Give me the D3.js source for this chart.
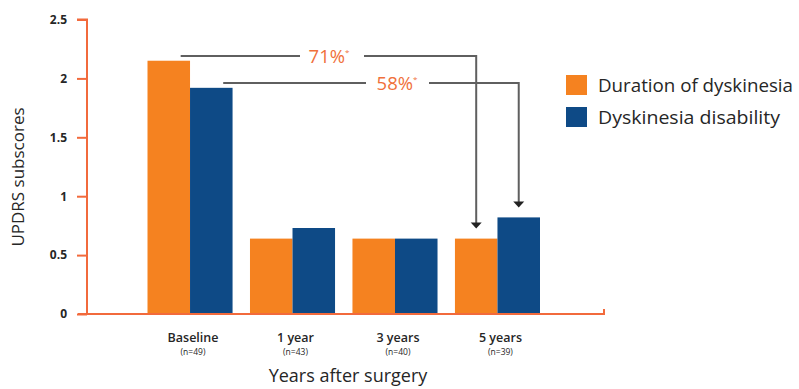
<!DOCTYPE html>
<html>
<head>
<meta charset="utf-8">
<script src="https://cdn.jsdelivr.net/npm/d3@7"></script>
<style>
  html, body { margin: 0; padding: 0; background: #fff; }
  svg { display: block; font-family: "Open Sans", "Noto Sans", sans-serif; }
</style>
</head>
<body>
<svg id="chart" width="799" height="389"></svg>
<script>
// Dyskinesia subscores over time after surgery
const categories = ["Baseline", "1 year", "3 years", "5 years"];
const sampleSizes = ["(n=49)", "(n=43)", "(n=40)", "(n=39)"];
const seriesNames = ["Duration of dyskinesia", "Dyskinesia disability"];
const durationValues = [2.15, 0.64, 0.64, 0.64];
const disabilityValues = [1.92, 0.73, 0.64, 0.82];
const yTicks = [0, 0.5, 1, 1.5, 2, 2.5];
const reductionLabels = ["71%", "58%"];

const colors = ["#f58220", "#0e4a86"];
const axisColor = "#f26a3c";
const textColor = "#262626";
const annotColor = "#5f5f5f";

const svg = d3.select("#chart");

const y = d3.scaleLinear().domain([0, 2.5]).range([314, 19.5]);
const x = d3.scaleBand().domain(categories).range([147.5, 540]).paddingInner(0.17).paddingOuter(0);
const xs = d3.scaleBand().domain(seriesNames).range([0, x.bandwidth()]);

const series = [durationValues, disabilityValues];

// bars
series.forEach((vals, si) => {
  svg.append("g").selectAll("rect")
    .data(categories.map((c, i) => ({ c, v: vals[i] })))
    .join("rect")
    .attr("x", d => x(d.c) + xs(seriesNames[si]))
    .attr("y", d => y(d.v))
    .attr("width", xs.bandwidth())
    .attr("height", d => y(0) - y(d.v))
    .attr("fill", colors[si]);
});

// y axis
const yAxis = svg.append("g")
  .attr("transform", "translate(87,0)")
  .call(d3.axisLeft(y).tickValues(yTicks).tickSize(10).tickPadding(10)
    .tickFormat(d => d === 0 ? "0" : String(d)));
yAxis.select(".domain").attr("stroke", axisColor).attr("stroke-width", 2)
  .attr("d", `M-10,${y(2.5)}H0V${y(0)}`);
yAxis.selectAll(".tick line").attr("stroke", axisColor).attr("stroke-width", 2);
yAxis.selectAll(".tick text").attr("fill", textColor).attr("font-size", 12)
  .attr("font-family", "'Liberation Sans Narrow', 'Open Sans', sans-serif").attr("font-weight", "bold");

// x axis baseline
svg.append("path")
  .attr("d", `M78,${y(0)}H604V${y(0) - 5}`)
  .attr("fill", "none").attr("stroke", axisColor).attr("stroke-width", 2);

// category labels
const xl = svg.append("g");
categories.forEach((c, i) => {
  const cx = x(c) + x.bandwidth() / 2 + 3;
  xl.append("text").attr("x", cx).attr("y", 342).attr("text-anchor", "middle")
    .attr("font-size", 12.5).attr("font-weight", 600).attr("fill", textColor).text(c);
  xl.append("text").attr("x", cx).attr("y", 355).attr("text-anchor", "middle")
    .attr("font-size", 8.5).attr("fill", textColor).text(sampleSizes[i]);
});

// axis titles
svg.append("text").attr("x", 348).attr("y", 382).attr("text-anchor", "middle")
  .attr("font-size", 18).attr("font-weight", 500).attr("fill", textColor)
  .text("Years after surgery");
svg.append("text").attr("transform", "translate(24,177) rotate(-90)")
  .attr("text-anchor", "middle").attr("font-size", 17).attr("font-weight", 500).attr("fill", textColor)
  .text("UPDRS subscores");

// reduction annotations: bracket from baseline bar down to the 5-year bar
const lastCat = categories[categories.length - 1];
const annots = [
  { si: 0, lineY: 56, label: reductionLabels[0], labelX: 329, gap: [300, 364] },
  { si: 1, lineY: 83, label: reductionLabels[1], labelX: 397, gap: [366, 429] }
];

annots.forEach(a => {
  const name = seriesNames[a.si];
  const startX = x(categories[0]) + xs(name) + xs.bandwidth() * 0.78;
  const endX = x(lastCat) + xs(name) + xs.bandwidth() / 2;
  const endVal = series[a.si][categories.length - 1];
  const tipY = y(endVal) - 10;
  svg.append("path")
    .attr("d", `M${startX},${a.lineY}H${a.gap[0]}`)
    .attr("fill", "none").attr("stroke", annotColor).attr("stroke-width", 2);
  svg.append("path")
    .attr("d", `M${a.gap[1]},${a.lineY}H${endX}V${tipY - 5}`)
    .attr("fill", "none").attr("stroke", annotColor).attr("stroke-width", 2);
  svg.append("path")
    .attr("d", `M${endX - 5.5},${tipY - 6}H${endX + 5.5}L${endX},${tipY}Z`)
    .attr("fill", "#222");
  const t = svg.append("text").attr("x", a.labelX).attr("y", a.lineY + 6.5)
    .attr("text-anchor", "middle").attr("font-size", 18.5).attr("font-weight", 500).attr("fill", "#f0703a");
  t.append("tspan").text(a.label);
  t.append("tspan").attr("font-size", 8).attr("dy", -8).text("*");
});

// legend
const legendWidths = [195, 182];
const legend = svg.append("g");
seriesNames.forEach((n, i) => {
  const ly = 75 + i * 32;
  legend.append("rect").attr("x", 566).attr("y", ly).attr("width", 21).attr("height", 20)
    .attr("fill", colors[i]);
  legend.append("text").attr("x", 598).attr("y", ly + 17).attr("font-size", 18.5)
    .attr("font-weight", 500).attr("fill", textColor)
    .attr("textLength", legendWidths[i]).attr("lengthAdjust", "spacingAndGlyphs").text(n);
});
</script>
</body>
</html>
